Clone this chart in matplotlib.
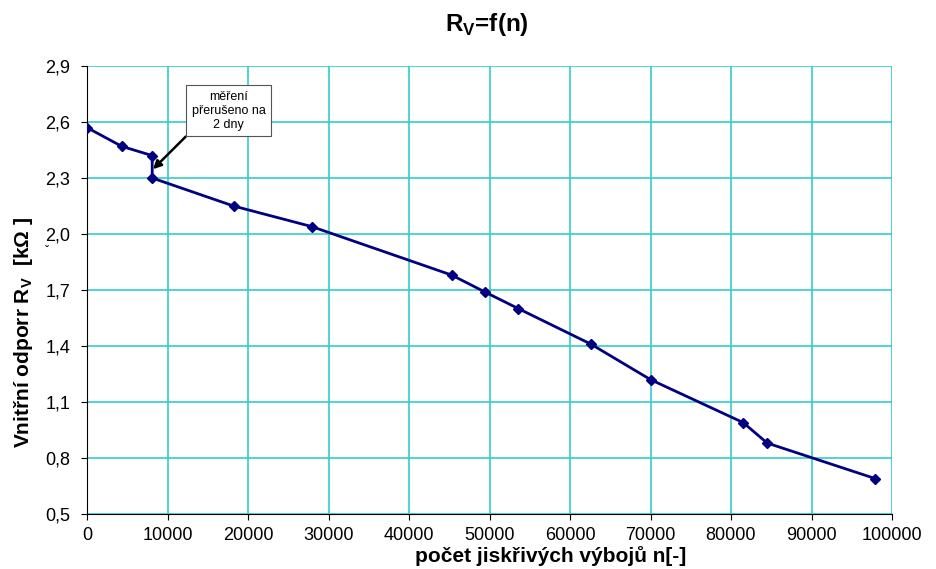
import matplotlib
matplotlib.use("Agg")
import matplotlib.pyplot as plt
from matplotlib.ticker import FixedLocator

n_values = [0, 4300, 8100, 8100, 18200, 27900, 45300, 49400, 53600, 62600, 70000, 81500, 84500, 97900]
rv_values = [2.57, 2.47, 2.42, 2.30, 2.15, 2.04, 1.78, 1.69, 1.60, 1.41, 1.22, 0.99, 0.88, 0.69]
x_ticks = [0, 10000, 20000, 30000, 40000, 50000, 60000, 70000, 80000, 90000, 100000]
y_ticks = [0.5, 0.8, 1.1, 1.4, 1.7, 2.0, 2.3, 2.6, 2.9]
y_tick_labels = ["0,5", "0,8", "1,1", "1,4", "1,7", "2,0", "2,3", "2,6", "2,9"]

plt.rcParams['font.family'] = ['Liberation Sans', 'DejaVu Sans']
plt.rcParams['mathtext.fontset'] = 'custom'
plt.rcParams['mathtext.rm'] = 'Liberation Sans'
plt.rcParams['mathtext.bf'] = 'Liberation Sans:bold'

W, H = 936, 569
fig = plt.figure(figsize=(9.36, 5.69), dpi=100)
ax = fig.add_axes([87/W, 1-514/H, (892-87)/W, (514-66)/H])

ax.plot(n_values, rv_values, color='#000080', lw=2, marker='D', ms=5, zorder=3)

ax.set_xlim(0, 100000)
ax.set_ylim(0.5, 2.9)
ax.xaxis.set_major_locator(FixedLocator(x_ticks))
ax.set_xticklabels([str(t) for t in x_ticks])
ax.yaxis.set_major_locator(FixedLocator(y_ticks))
ax.set_yticklabels(y_tick_labels)
ax.grid(True, color='#33CCCC', lw=1.2)
ax.set_axisbelow(True)
for s in ['top', 'right']:
    ax.spines[s].set_visible(False)
ax.tick_params(axis='both', labelsize=13, direction='out', length=4, color='black')
ax.tick_params(axis='x', pad=5)
ax.tick_params(axis='y', pad=8)

# axis titles (positioned as in the reference)
fig.text(551/W, 1-556/H, "počet jiskřivých výbojů n[-]", fontsize=15, fontweight='bold',
         ha='center', va='center')
fig.text(24/W, 1-332/H, "Vnitřní odporr R$_\\mathbf{V}$  [kΩ ]", fontsize=15, fontweight='bold',
         rotation=90, ha='center', va='center')
fig.text(47/W, 1-252/H, "ˇ", fontsize=9, ha='center', va='center')

fig.text(486.5/W, 1-25/H, "R$_\\mathbf{V}$=f(n)", fontsize=17.5, fontweight='bold', ha='center', va='center')

ax.annotate("měření\npřerušeno na\n2 dny", xy=(8200, 2.347), xytext=(17600, 2.66),
            fontsize=9, ha='center', va='center', linespacing=1.2,
            bbox=dict(boxstyle='square,pad=0.45', fc='white', ec='#555555', lw=0.8),
            arrowprops=dict(arrowstyle='-|>', color='black', lw=1.8, mutation_scale=12,
                            relpos=(0, 0), shrinkA=0, shrinkB=0))

fig.savefig("out.png", dpi=100)
